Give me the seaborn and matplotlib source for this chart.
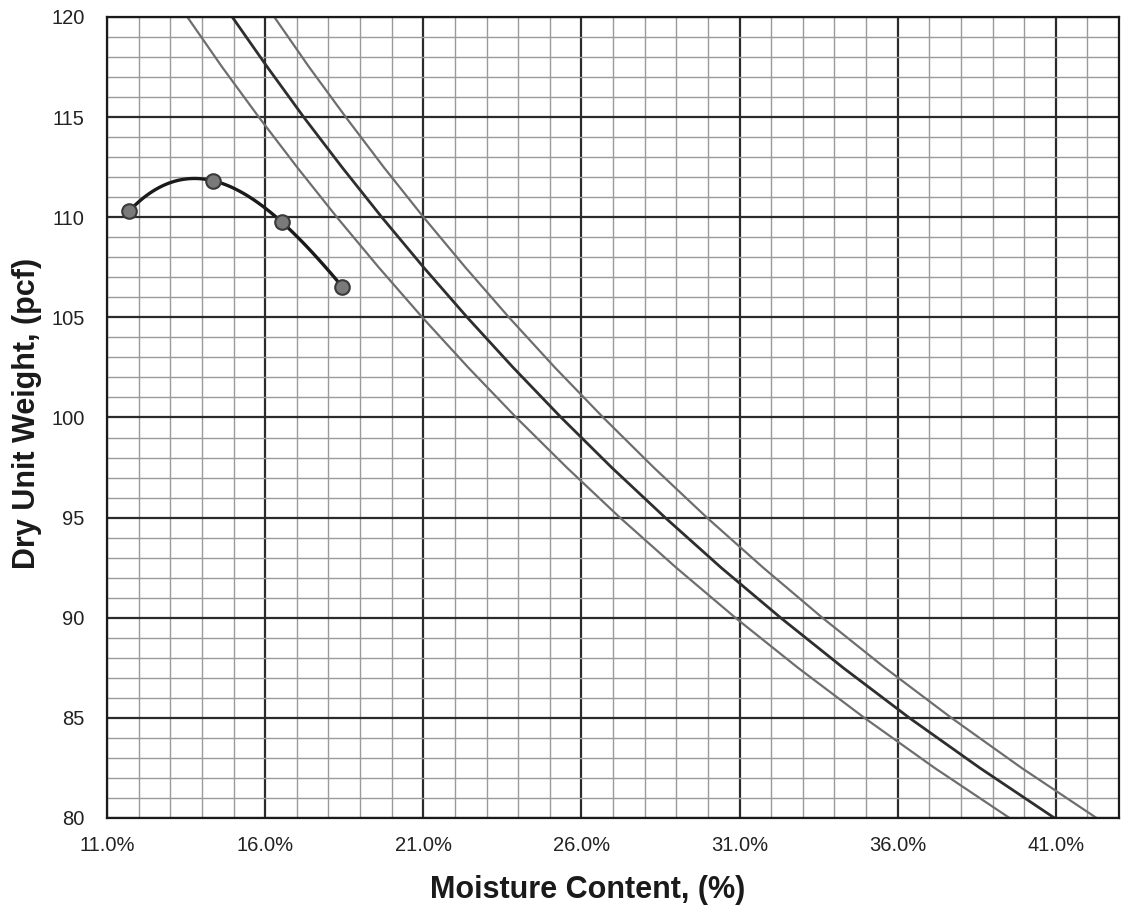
import numpy as np
import pandas as pd
import matplotlib
matplotlib.use("Agg")
import matplotlib.pyplot as plt
import seaborn as sns
from matplotlib.ticker import MultipleLocator, FuncFormatter

# Compaction test points
moisture = [11.70, 14.36, 16.52, 18.44]
dry_density = [110.31, 111.82, 109.77, 106.53]

# Saturation (zero-air-voids) curves read along the dry-weight axis
zav_density = [80, 82.5, 85, 87.5, 90, 92.5, 95, 97.5, 100,
               102.5, 105, 107.5, 110, 112.5, 115, 117.5, 120]
zav_left = [39.54, 37.17, 34.95, 32.85, 30.87, 29.00, 27.22, 25.54, 23.94,
            22.42, 20.97, 19.59, 18.27, 17.01, 15.80, 14.64, 13.54]
zav_mid = [40.96, 38.60, 36.37, 34.28, 32.30, 30.42, 28.65, 26.96, 25.36,
           23.84, 22.39, 21.01, 19.69, 18.43, 17.22, 16.07, 14.96]
zav_right = [42.29, 39.92, 37.70, 35.60, 33.62, 31.75, 29.97, 28.29, 26.69,
             25.16, 23.71, 22.33, 21.01, 19.75, 18.55, 17.39, 16.29]

x_ticks = [11, 16, 21, 26, 31, 36, 41]
y_ticks = [80, 85, 90, 95, 100, 105, 110, 115, 120]

sns.set_style("white")
plt.rcParams["font.family"] = ["Liberation Sans", "DejaVu Sans"]

fig = plt.figure(figsize=(11.23, 9.09), dpi=100)
ax = fig.add_axes([107/1123, 1-818/909, (1119-107)/1123, (818-17)/909])

ax.set_xlim(11, 43)
ax.set_ylim(80, 120)
ax.xaxis.set_minor_locator(MultipleLocator(1))
ax.yaxis.set_minor_locator(MultipleLocator(1))
ax.set_xticks(x_ticks)
ax.set_yticks(y_ticks)
ax.grid(which="minor", color="#9a9a9a", linewidth=1.0)
ax.grid(which="major", color="#2b2b2b", linewidth=1.6)
ax.set_axisbelow(True)

zdf = pd.DataFrame({"d": zav_density, "l": zav_left, "m": zav_mid, "r": zav_right})
sns.lineplot(data=zdf, x="l", y="d", sort=False, ax=ax, color="#6e6e6e", linewidth=1.6)
sns.lineplot(data=zdf, x="r", y="d", sort=False, ax=ax, color="#6e6e6e", linewidth=1.6)
sns.lineplot(data=zdf, x="m", y="d", sort=False, ax=ax, color="#2e2e2e", linewidth=2.0)

cdf = pd.DataFrame({"w": moisture, "g": dry_density})
sns.regplot(data=cdf, x="w", y="g", order=3, ci=None, scatter=False, truncate=True,
            ax=ax, line_kws={"color": "#1a1a1a", "linewidth": 2.4})
sns.scatterplot(data=cdf, x="w", y="g", ax=ax, s=110, color="#7a7a7a",
                edgecolor="#3a3a3a", linewidth=1.5, zorder=5)

ax.xaxis.set_major_formatter(FuncFormatter(lambda v, p: f"{v:.1f}%"))
ax.yaxis.set_major_formatter(FuncFormatter(lambda v, p: f"{v:.0f}"))
ax.tick_params(axis="both", which="both", length=0, labelsize=14.5, colors="#222222")
ax.tick_params(axis="x", pad=13)
ax.tick_params(axis="y", pad=16)

for s in ax.spines.values():
    s.set_color("#1a1a1a")
    s.set_linewidth(1.6)
    s.set_visible(True)

ax.set_xlabel("Moisture Content, (%)", fontsize=22, fontweight="bold", color="#1a1a1a",
              va="center")
ax.set_ylabel("Dry Unit Weight, (pcf)", fontsize=22, fontweight="bold", color="#1a1a1a",
              va="center")
ax.xaxis.set_label_coords((588-107)/1012, (818-890)/801)
ax.yaxis.set_label_coords((27-107)/1012, (818-413)/801)

fig.savefig("out.png", dpi=100)
